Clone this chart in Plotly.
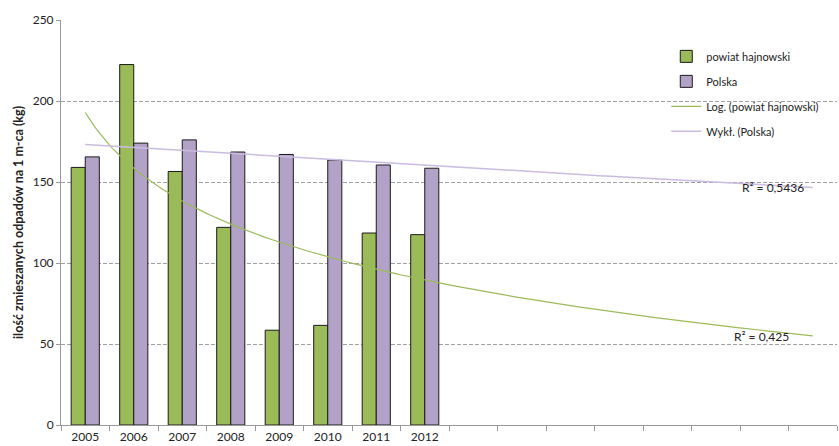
import numpy as np
import plotly.graph_objects as go

years = ["2005", "2006", "2007", "2008", "2009", "2010", "2011", "2012"]
powiat = [159, 222.5, 156.5, 122, 58.5, 61.5, 118.5, 117.5]
polska = [165.5, 174, 176, 168.5, 167, 163.5, 160.5, 158.5]
forecast_periods = 8
r2_powiat = "R² = 0,425"
r2_polska = "R² = 0,5436"

n = len(years)
x = np.arange(1, n + 1)
x_dense = np.linspace(1, n + forecast_periods, 300)

# Log trend (Excel style): y = a + b ln(x)
b_log, a_log = np.polyfit(np.log(x), powiat, 1)
y_log = a_log + b_log * np.log(x_dense)
# Exponential trend: y = c e^(k x)
k_exp, lnc = np.polyfit(x, np.log(polska), 1)
y_exp = np.exp(lnc) * np.exp(k_exp * x_dense)

FONT = "Lato"
GREEN = "#9BBB59"
PURPLE = "#B3A2C7"

fig = go.Figure()
fig.add_trace(go.Bar(x=x, y=powiat, name="powiat hajnowski", marker=dict(color=GREEN, line=dict(color="#1a1a1a", width=1)),
                     legendgroup="a"))
fig.add_trace(go.Bar(x=x, y=polska, name="Polska", marker=dict(color=PURPLE, line=dict(color="#1a1a1a", width=1)),
                     legendgroup="b"))
fig.add_trace(go.Scatter(x=x_dense, y=y_log, mode="lines", name="Log. (powiat hajnowski)",
                         line=dict(color=GREEN, width=1.2), legendgroup="c"))
fig.add_trace(go.Scatter(x=x_dense, y=y_exp, mode="lines", name="Wykł. (Polska)",
                         line=dict(color="#C9BCE0", width=1.5), legendgroup="d"))
fig.add_trace(go.Scatter(x=[1], y=[0], xaxis="x2", mode="markers", marker=dict(opacity=0), showlegend=False, hoverinfo="skip"))

xr = [0.5, n + forecast_periods + 0.5]
fig.update_layout(
    width=839, height=446,
    margin=dict(l=61, r=2, t=20, b=21),
    paper_bgcolor="white", plot_bgcolor="white",
    font=dict(family=FONT, size=12, color="#222"),
    barmode="group", bargap=0.42, bargroupgap=0,
    showlegend=True,
    legend=dict(x=0.78, y=0.946, xanchor="left", yanchor="top", bgcolor="rgba(0,0,0,0)",
                font=dict(size=11, family=FONT), tracegroupgap=6, itemwidth=30),
    xaxis=dict(range=xr, tickvals=list(np.arange(0.5, n + forecast_periods + 1, 1)), ticktext=[""] * (n + forecast_periods + 1),
               ticks="outside", ticklen=5, tickcolor="#999", showline=True, linecolor="#999", linewidth=1,
               showgrid=False, zeroline=False, automargin=False),
    xaxis2=dict(range=xr, overlaying="x", side="bottom", tickvals=list(x), ticktext=years, ticks="",
                showline=False, showgrid=False, zeroline=False, tickfont=dict(size=12), ticklabelstandoff=3,
                automargin=False),
    yaxis=dict(range=[0, 250], tickvals=[0, 50, 100, 150, 200, 250], ticks="outside", ticklen=4, tickcolor="#999",
               showline=True, linecolor="#999", linewidth=1, showgrid=True, gridcolor="#a0a0a0", griddash="4px,2px",
               gridwidth=1, zeroline=False, automargin=False,
               title=dict(text="<b>ilość zmieszanych odpadów na 1 m-ca (kg)</b>", font=dict(size=12.5, family=FONT), standoff=6)),
    annotations=[
        dict(x=15.18, y=146.5, xref="x", yref="y", text=r2_polska, showarrow=False, font=dict(size=12, family=FONT)),
        dict(x=14.95, y=54.5, xref="x", yref="y", text=r2_powiat, showarrow=False, font=dict(size=12, family=FONT)),
    ],
)
fig.write_html("out.html", config={"displayModeBar": False},
               post_script="document.body.style.margin='0';document.body.style.padding='0';")
